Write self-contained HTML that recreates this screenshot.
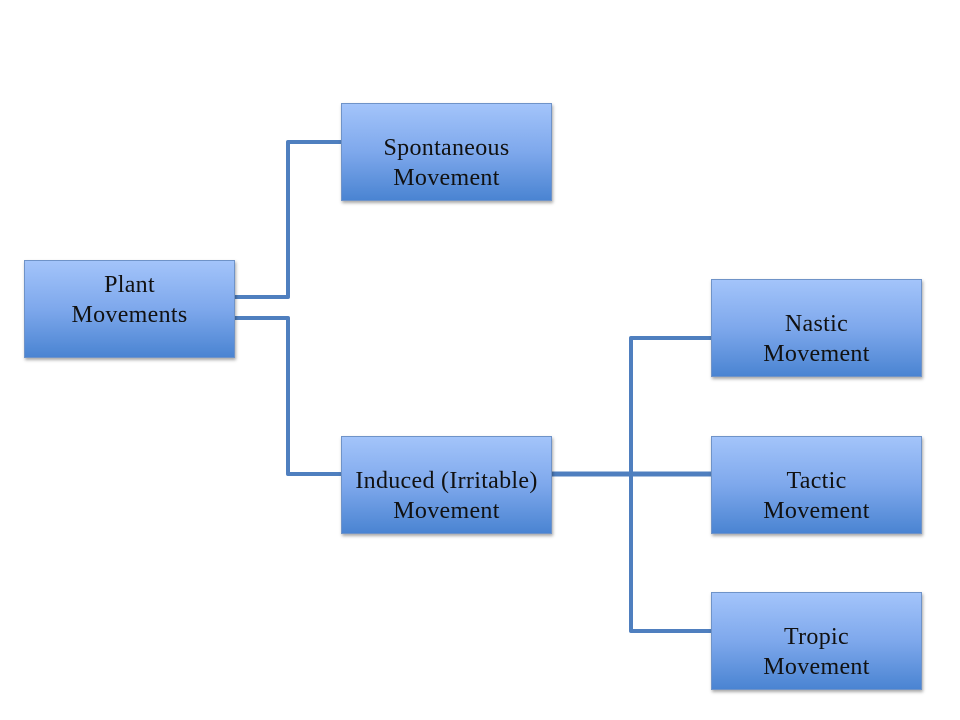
<!DOCTYPE html>
<html><head><style>
body{margin:0;width:960px;height:720px;background:#fff;position:relative;overflow:hidden}
.b{position:absolute;width:211px;height:98px;box-sizing:border-box;border:1px solid #6f93c8;
background:linear-gradient(#a3c4fa,#7ea8ec 50%,#4a84d2);box-shadow:1px 2px 3px rgba(0,0,0,.35);
display:flex;align-items:center;justify-content:center;text-align:center;padding-top:22px;
font-family:"Liberation Serif",serif;font-size:24px;line-height:30px;color:#111;letter-spacing:0.3px}
svg{position:absolute;left:0;top:0}
</style></head><body>
<svg width="960" height="720"><g stroke="#4f7fbf" stroke-width="4" fill="none" stroke-linejoin="round">
<polyline points="235,297 288,297 288,142 341,142"/>
<polyline points="235,318 288,318 288,474 341,474"/>
<line x1="552" y1="474" x2="711" y2="474" stroke-width="5"/>
<polyline points="711,338 631,338 631,631 711,631"/>
</g></svg>
<div class="b" style="left:24px;top:260px;padding-top:0;padding-bottom:18px">Plant<br>Movements</div>
<div class="b" style="left:341px;top:103px">Spontaneous<br>Movement</div>
<div class="b" style="left:341px;top:436px">Induced (Irritable)<br>Movement</div>
<div class="b" style="left:711px;top:279px">Nastic<br>Movement</div>
<div class="b" style="left:711px;top:436px">Tactic<br>Movement</div>
<div class="b" style="left:711px;top:592px">Tropic<br>Movement</div>
</body></html>
